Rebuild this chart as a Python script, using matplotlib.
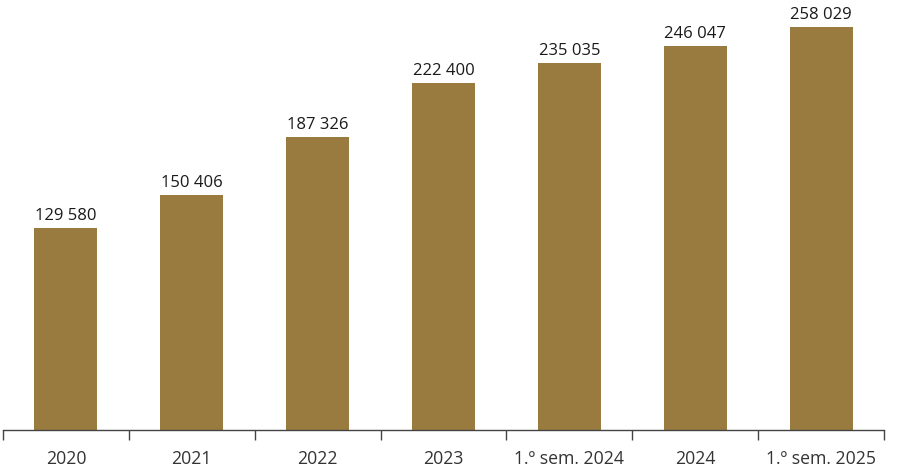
import matplotlib.pyplot as plt
import numpy as np

categories = ['2020', '2021', '2022', '2023', '1.º sem. 2024', '2024', '1.º sem. 2025']
values = [129580, 150406, 187326, 222400, 235035, 246047, 258029]

BAR_COLOR = '#9a7b3f'
plt.rcParams['font.family'] = ['Open Sans', 'DejaVu Sans']

fig = plt.figure(figsize=(9, 4.69), dpi=100)
ax = fig.add_axes([0.0033, 0.0832, 0.9789, 0.9168])

x = np.arange(len(categories))
bars = ax.bar(x, values, width=0.5, color=BAR_COLOR)

for xi, v in zip(x, values):
    label = f"{v:,}".replace(',', ' ')
    ax.text(xi, v + 2500, label, ha='center', va='bottom', fontsize=12, color='#1a1a1a')

ax.set_xlim(-0.5, len(categories) - 0.5)
ax.set_ylim(0, 275300)

ax.set_xticks(x)
ax.set_xticklabels(categories, fontsize=12.7, color='#333333')
ax.set_xticks(np.arange(-0.5, len(categories)), minor=True)
ax.tick_params(axis='x', which='major', length=0, pad=14.5)
ax.tick_params(axis='x', which='minor', length=7, width=1, color='#444444', direction='out')
ax.set_yticks([])

for s in ['top', 'right', 'left']:
    ax.spines[s].set_visible(False)
ax.spines['bottom'].set_color('#444444')
ax.spines['bottom'].set_linewidth(1)

plt.savefig('out.png', dpi=100)
